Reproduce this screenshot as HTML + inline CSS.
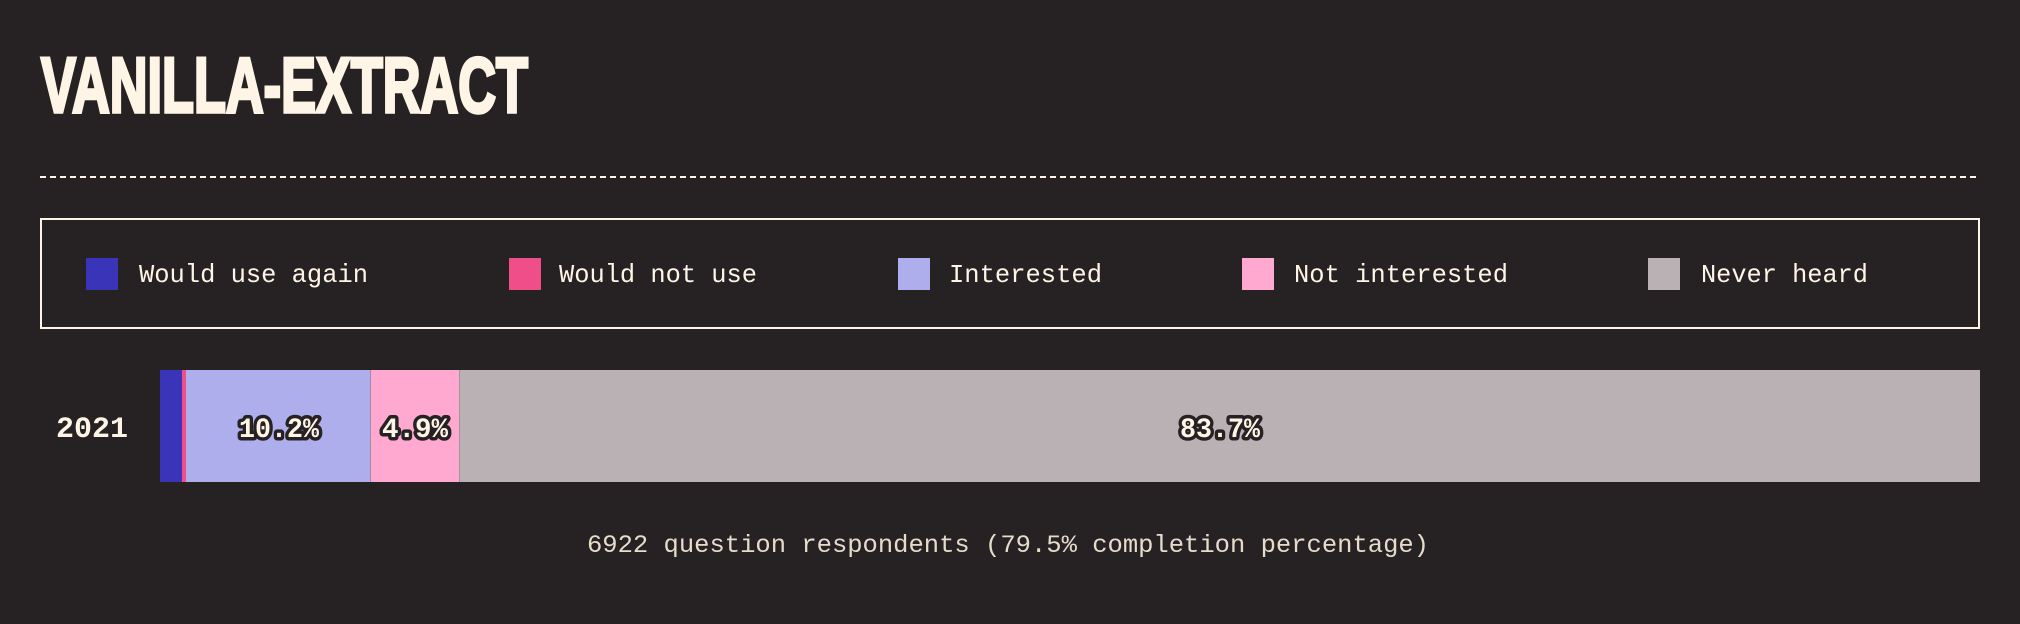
<!DOCTYPE html>
<html><head><meta charset="utf-8"><style>
html,body{margin:0;padding:0;background:#262223;}
svg{display:block;}
</style></head><body>
<svg width="2020" height="624" viewBox="0 0 2020 624" xmlns="http://www.w3.org/2000/svg">
<rect width="2020" height="624" fill="#262223"/>
<text x="41" y="112" font-family="Liberation Sans, sans-serif" font-weight="bold" font-size="78" fill="#fff5e6" stroke="#fff5e6" stroke-width="3.5" stroke-linejoin="miter" textLength="487" lengthAdjust="spacingAndGlyphs">VANILLA-EXTRACT</text>
<line x1="40" y1="177" x2="1980" y2="177" stroke="#fff5e6" stroke-width="2" stroke-dasharray="6,4"/>
<rect x="41" y="219" width="1938" height="109" fill="none" stroke="#fff5e6" stroke-width="2"/>
<g font-family="Liberation Mono, monospace" font-size="26" fill="#fff5e6">
<rect x="86" y="258" width="32" height="32" fill="#3a35b8"/>
<text x="139" y="282" textLength="229" lengthAdjust="spacingAndGlyphs">Would use again</text>
<rect x="509" y="258" width="32" height="32" fill="#ef4e88"/>
<text x="559" y="282" textLength="198" lengthAdjust="spacingAndGlyphs">Would not use</text>
<rect x="898" y="258" width="32" height="32" fill="#afaeec"/>
<text x="949" y="282" textLength="153" lengthAdjust="spacingAndGlyphs">Interested</text>
<rect x="1242" y="258" width="32" height="32" fill="#ffa9d1"/>
<text x="1294" y="282" textLength="214" lengthAdjust="spacingAndGlyphs">Not interested</text>
<rect x="1648" y="258" width="32" height="32" fill="#b9b1b3"/>
<text x="1701" y="282" textLength="167" lengthAdjust="spacingAndGlyphs">Never heard</text>
</g>
<text x="56" y="437" font-family="Liberation Mono, monospace" font-weight="bold" font-size="30" fill="#fff5e6" textLength="72" lengthAdjust="spacingAndGlyphs">2021</text>
<rect x="160" y="370" width="22" height="112" fill="#3a35b8"/>
<rect x="182" y="370" width="4" height="112" fill="#ef4e88"/>
<rect x="186" y="370" width="185" height="112" fill="#afaeec"/>
<rect x="371" y="370" width="88" height="112" fill="#ffa9d1"/>
<rect x="459" y="370" width="1521" height="112" fill="#b9b1b3"/>
<line x1="370.5" y1="370" x2="370.5" y2="482" stroke="#9990a8" stroke-width="1"/>
<line x1="459.5" y1="370" x2="459.5" y2="482" stroke="#a0949a" stroke-width="1"/>
<g font-family="Liberation Mono, monospace" font-weight="bold" font-size="28" fill="#fff5e6" stroke="#262223" stroke-width="7" stroke-linejoin="round" paint-order="stroke">
<text x="239" y="437" textLength="80" lengthAdjust="spacingAndGlyphs">10.2%</text>
<text x="382" y="437" textLength="66" lengthAdjust="spacingAndGlyphs">4.9%</text>
<text x="1180" y="437" textLength="80" lengthAdjust="spacingAndGlyphs">83.7%</text>
</g>
<text x="587" y="552" font-family="Liberation Mono, monospace" font-size="25" fill="#e6dccb" textLength="842" lengthAdjust="spacingAndGlyphs">6922 question respondents (79.5% completion percentage)</text>
</svg>
</body></html>
